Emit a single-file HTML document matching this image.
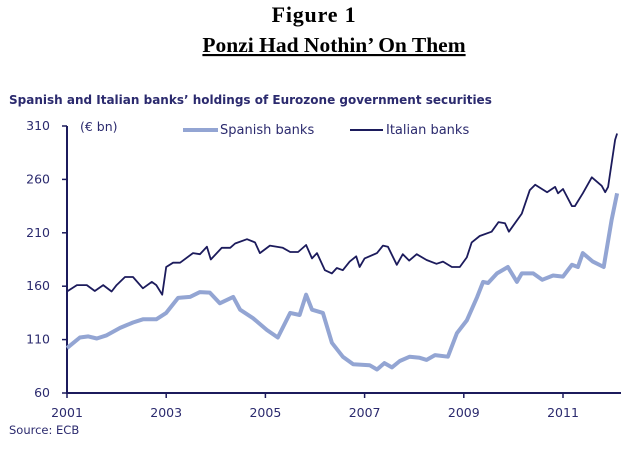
<!DOCTYPE html>
<html><head><meta charset="utf-8"><style>
body{margin:0;background:#fff;width:628px;height:450px;overflow:hidden}
svg{display:block}
</style></head><body>
<svg id="chart" width="628" height="450">
<text x="314" y="22" text-anchor="middle" font-family="Liberation Serif" font-weight="bold" font-size="22" letter-spacing="0.8">Figure 1</text>
<text x="334" y="52" text-anchor="middle" font-family="Liberation Serif" font-weight="bold" font-size="21.5" text-decoration="underline">Ponzi Had Nothin’ On Them</text>
<text x="9" y="104" font-family="DejaVu Sans" font-weight="bold" font-size="12" fill="#2b2a6e">Spanish and Italian banks’ holdings of Eurozone government securities</text>
<text x="80" y="131" font-family="DejaVu Sans" font-size="12.5" fill="#2b2a6e">(€ bn)</text>
<line x1="183" y1="130" x2="218" y2="130" stroke="#93a5d3" stroke-width="4"/>
<text x="220" y="134" font-family="DejaVu Sans" font-size="13" fill="#2b2a6e">Spanish banks</text>
<line x1="350" y1="130" x2="383" y2="130" stroke="#1c1b5c" stroke-width="2"/>
<text x="386" y="134" font-family="DejaVu Sans" font-size="13" fill="#2b2a6e">Italian banks</text>
<g id="axes"></g>
<g id="series"></g>
<text x="9" y="434" font-family="DejaVu Sans" font-size="11.5" fill="#2b2a6e">Source: ECB</text>
</svg>
<script>
const yTicks=[60,110,160,210,260,310];
const xTicks=[2001,2003,2005,2007,2009,2011];
const itYears=[2001.0,2001.2,2001.4,2001.56,2001.73,2001.9,2002.0,2002.17,2002.33,2002.53,2002.71,2002.8,2002.92,2003.0,2003.14,2003.28,2003.54,2003.68,2003.82,2003.9,2004.12,2004.29,2004.39,2004.63,2004.79,2004.89,2005.09,2005.35,2005.5,2005.66,2005.82,2005.94,2006.04,2006.2,2006.34,2006.44,2006.56,2006.7,2006.83,2006.9,2007.0,2007.25,2007.37,2007.47,2007.65,2007.77,2007.9,2008.05,2008.25,2008.45,2008.58,2008.76,2008.92,2009.06,2009.16,2009.32,2009.56,2009.7,2009.83,2009.91,2010.17,2010.33,2010.44,2010.68,2010.84,2010.9,2011.0,2011.18,2011.24,2011.4,2011.58,2011.78,2011.85,2011.91,2012.05,2012.09];
const itValues=[155,161,161,155.5,161,155,161,168.6,168.6,158,164,161,152,178,182,182,191,190,197,185,196,196,200,204,201,191,198,196,192,192,198.6,186,191,175,172,177,175,183,188,178,186,191,198,197,180,190,184,190,184.5,181,183,178,178,187,201,207,211,220,219,211,228,250,255,248,253,247,251,235,235,247,262,254,248,253,297,303];
const esYears=[2001.0,2001.26,2001.43,2001.6,2001.8,2002.07,2002.33,2002.53,2002.8,2003.0,2003.24,2003.48,2003.68,2003.88,2004.08,2004.35,2004.49,2004.75,2005.03,2005.25,2005.5,2005.69,2005.82,2005.94,2006.16,2006.34,2006.56,2006.77,2007.1,2007.25,2007.4,2007.55,2007.71,2007.91,2008.11,2008.25,2008.42,2008.68,2008.86,2009.06,2009.27,2009.39,2009.49,2009.67,2009.89,2010.07,2010.17,2010.4,2010.58,2010.8,2011.0,2011.18,2011.3,2011.4,2011.6,2011.82,2011.98,2012.09];
const esValues=[102,112,113,111,114,121,126,129,129,135,149,150,154.5,154,144,150,138,130,119,112,135,133,152,138,135,107,94,87,86,82,88,84,90,94,93,91,95.5,94,116,128,150,164,163,172,178,164,172,172,166,170,169,180,178,191,183,178,222,247];
const X=y=>67+(y-2001)*49.6;
const Y=v=>393-(v-60)*1.068;
const NS='http://www.w3.org/2000/svg';
const axes=document.getElementById('axes');
function mk(tag,attrs,parent){const e=document.createElementNS(NS,tag);for(const k in attrs)e.setAttribute(k,attrs[k]);parent.appendChild(e);return e;}
let el=mk('line',{x1:67,y1:Y(310),x2:67,y2:393,stroke:'#1c1b5c','stroke-width':2},axes);


el=mk('line',{x1:66,y1:393,x2:621,y2:393,stroke:'#1c1b5c','stroke-width':2},axes);


yTicks.forEach(v=>{
 let t=mk('line',{x1:62,y1:Y(v),x2:67,y2:Y(v),stroke:'#1c1b5c','stroke-width':1.5},axes);
 
 
 let l=mk('text',{x:50,y:Y(v)+4,'text-anchor':'end','font-family':'DejaVu Sans','font-size':12.5,fill:'#2b2a6e'},axes);
 l.textContent=v;
 
 
});
xTicks.forEach(v=>{
 let t=mk('line',{x1:X(v),y1:393,x2:X(v),y2:398,stroke:'#1c1b5c','stroke-width':1.5},axes);
 
 
 let l=mk('text',{x:X(v),y:417,'text-anchor':'middle','font-family':'DejaVu Sans','font-size':12.5,fill:'#2b2a6e'},axes);
 l.textContent=v;
 
 
});
const ser=document.getElementById('series');
const pts=(ys,vs)=>ys.map((y,i)=>X(y).toFixed(1)+','+Y(vs[i]).toFixed(1)).join(' ');
el=mk('polyline',{points:pts(esYears,esValues),fill:'none',stroke:'#93a5d3','stroke-width':4,'stroke-linejoin':'round'},ser);


el=mk('polyline',{points:pts(itYears,itValues),fill:'none',stroke:'#1c1b5c','stroke-width':1.8,'stroke-linejoin':'round'},ser);


</script>
</body></html>
